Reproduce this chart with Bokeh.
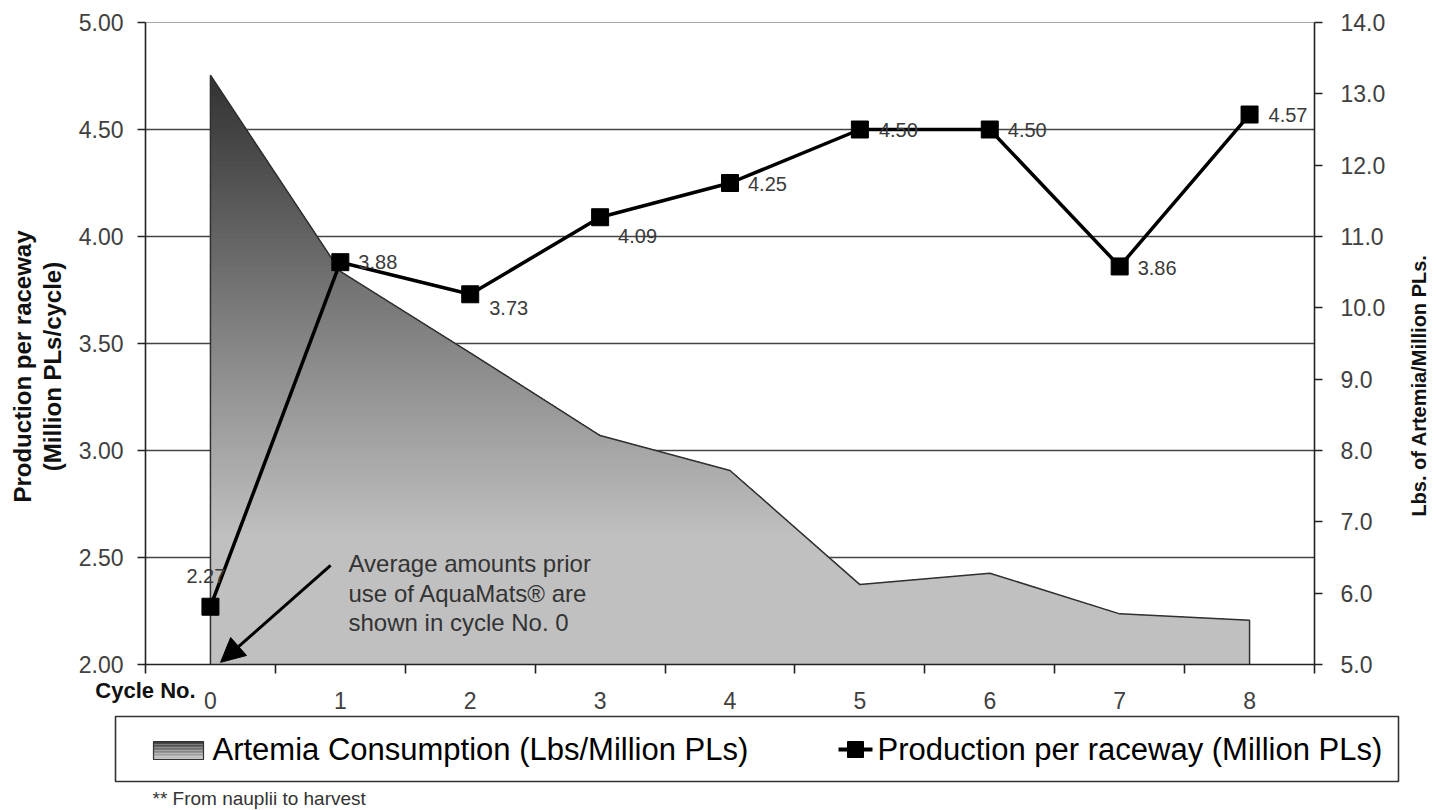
import numpy as np
from bokeh.plotting import figure
from bokeh.layouts import row
from bokeh.models import (Range1d, LinearAxis, FixedTicker, NumeralTickFormatter, Label,
                          Arrow, NormalHead)
from bokeh.core.properties import value
from bokeh.embed import file_html
from bokeh.resources import INLINE

# ---------------- data ----------------
cycles = [0, 1, 2, 3, 4, 5, 6, 7, 8]
cycle_labels = ["0", "1", "2", "3", "4", "5", "6", "7", "8"]
production = [2.27, 3.88, 3.73, 4.09, 4.25, 4.50, 4.50, 3.86, 4.57]
production_labels = ["2.27", "3.88", "3.73", "4.09", "4.25", "4.50", "4.50", "3.86", "4.57"]
artemia = [13.26, 10.51, 9.37, 8.21, 7.72, 6.12, 6.28, 5.71, 5.62]
left_ticks = [2.0, 2.5, 3.0, 3.5, 4.0, 4.5, 5.0]
right_ticks = [5, 6, 7, 8, 9, 10, 11, 12, 13, 14]
left_title = ["Production per raceway", "(Million PLs/cycle)"]
right_title = "Lbs. of Artemia/Million PLs."
legend_labels = ["Artemia Consumption (Lbs/Million PLs)", "Production per raceway (Million PLs)"]
footnote = "** From nauplii to harvest"

# label offsets (pixels), style only
label_dx = [-24, 18, 19, 18, 18, 19, 18, 18, 19]
label_dy = [-31, 0, 14, 19, 1, 0, 0, 2, 0]

FONT = "Liberation Sans"
H_TOP = 712
BT, BB = 22, 48          # top / bottom borders of the plotting frame
LW, PW, RW = 70, 1330, 36  # widths: left title strip, main plot, right title strip

p = figure(width=PW, height=H_TOP, output_backend="svg", toolbar_location=None,
           x_range=Range1d(-0.5, 8.5), y_range=Range1d(2, 5),
           min_border_left=75, min_border_right=86, min_border_top=BT, min_border_bottom=BB,
           background_fill_color="white", border_fill_color="white")
p.extra_y_ranges = {"right": Range1d(5, 14)}
p.outline_line_color = "#a8a8a8"
p.outline_line_width = 1

# grid
p.xgrid.visible = False
p.ygrid.ticker = FixedTicker(ticks=[t for t in left_ticks if 2.0 < t < 5.0])
p.ygrid.grid_line_color = "#444444"
p.ygrid.grid_line_width = 1.6

# ---------------- gradient area (right axis) ----------------
base = 5.0
top = max(artemia)
N = 90
levels = np.linspace(base, top, N + 1)[1:][::-1]
step = (top - base) / N
xa = np.array(cycles, dtype=float)
fa = np.array(artemia, dtype=float)
for b in levels:
    xs = list(xa)
    for i in range(len(xa) - 1):
        f0, f1 = fa[i], fa[i + 1]
        if (f0 - b) * (f1 - b) < 0:
            xs.append(xa[i] + (b - f0) / (f1 - f0) * (xa[i + 1] - xa[i]))
    xs = np.array(sorted(xs))
    ys = np.minimum(np.interp(xs, xa, fa), b)
    vc = b - step / 2
    t = np.clip((vc - 6.8) / (top - 6.8), 0, 1)
    g = int(round(192 - t * (192 - 50)))
    col = "#%02x%02x%02x" % (g, g, g)
    p.varea(x=xs, y1=np.full(len(xs), base), y2=ys, fill_color=col, y_range_name="right")

# outline of the area
p.line(x=[cycles[0]] + cycles + [cycles[-1]], y=[base] + artemia + [base],
       line_color="#303030", line_width=1.5, y_range_name="right")

# ---------------- production line ----------------
p.line(x=cycles, y=production, line_color="black", line_width=3.5)
p.scatter(x=cycles, y=production, marker="square", size=17, fill_color="black", line_color="black")
p.text(x=cycles, y=production, text=production_labels, x_offset=label_dx, y_offset=label_dy,
       text_font=value(FONT), text_font_size="20px", text_color="#3a3a3a",
       text_baseline="middle", text_align="left")

# ---------------- axes ----------------
def style_y(ax, standoff):
    ax.major_tick_in = 0
    ax.major_tick_out = 8
    ax.minor_tick_line_color = None
    ax.axis_line_color = "#222222"
    ax.axis_line_width = 1.6
    ax.major_tick_line_width = 1.6
    ax.major_tick_line_color = "#222222"
    ax.major_label_text_font = FONT
    ax.major_label_text_font_size = "23px"
    ax.major_label_text_color = "#404040"
    ax.major_label_standoff = standoff

yl = p.yaxis[0]
yl.ticker = FixedTicker(ticks=left_ticks)
yl.formatter = NumeralTickFormatter(format="0.00")
style_y(yl, 14)

yr = LinearAxis(y_range_name="right", ticker=FixedTicker(ticks=right_ticks),
                formatter=NumeralTickFormatter(format="0.0"))
style_y(yr, 18)
p.add_layout(yr, "right")

xb = p.xaxis[0]
xb.ticker = FixedTicker(ticks=cycles, minor_ticks=[c - 0.5 for c in cycles] + [cycles[-1] + 0.5])
xb.major_label_overrides = {c: s for c, s in zip(cycles, cycle_labels)}
xb.major_tick_line_color = None
xb.major_tick_in = 0
xb.major_tick_out = 0
xb.minor_tick_in = 0
xb.minor_tick_out = 9
xb.minor_tick_line_color = "#222222"
xb.minor_tick_line_width = 1.6
xb.axis_line_color = "#222222"
xb.axis_line_width = 1.6
xb.major_label_text_font = FONT
xb.major_label_text_font_size = "23px"
xb.major_label_text_color = "#404040"
xb.major_label_standoff = 18

# "Cycle No." as a second bottom axis with a single labelled tick at the range start
xc = LinearAxis(ticker=FixedTicker(ticks=[-0.5]), major_label_overrides={-0.5: "Cycle No."})
xc.axis_line_color = None
xc.major_tick_line_color = None
xc.minor_tick_line_color = None
xc.major_tick_in = 0
xc.major_tick_out = 0
xc.major_label_text_font = FONT
xc.major_label_text_font_style = "bold"
xc.major_label_text_font_size = "22px"
xc.major_label_text_color = "#111111"
xc.major_label_standoff = -34
p.add_layout(xc, "below")

# annotation
ann_lines = ["Average amounts prior", "use of AquaMats\u00ae are", "shown in cycle No. 0"]
ann_y = [2.472, 2.334, 2.197]
for txt, yy in zip(ann_lines, ann_y):
    p.add_layout(Label(x=1.063, y=yy, text=txt, text_align="left", text_baseline="middle",
                       text_font=FONT, text_font_size="24px", text_color="#333333"))
p.add_layout(Arrow(end=NormalHead(size=24, fill_color="black", line_color="black"),
                   x_start=0.925, y_start=2.463, x_end=0.078, y_end=2.01,
                   line_color="black", line_width=3))

# ---------------- axis title strips ----------------
def strip(width, x0):
    f = figure(width=width, height=H_TOP, output_backend="svg", toolbar_location=None,
               x_range=Range1d(x0, x0 + width), y_range=Range1d(H_TOP - BB, BT),
               x_axis_type=None, y_axis_type=None,
               min_border_left=0, min_border_right=0, min_border_top=BT, min_border_bottom=BB,
               background_fill_color="white", border_fill_color="white")
    f.grid.visible = False
    f.outline_line_color = None
    return f

lft = strip(LW, 0)
lft.text(x=[22, 52], y=[366, 366], text=left_title, angle=np.pi / 2,
         text_font=value(FONT), text_font_style="bold", text_font_size="24px",
         text_color="#111111", text_align="center", text_baseline="middle")

rgt = strip(RW, LW + PW)
rgt.text(x=[LW + PW + 18], y=[385], text=[right_title], angle=np.pi / 2,
         text_font=value(FONT), text_font_style="bold", text_font_size="20px",
         text_color="#111111", text_align="center", text_baseline="middle")

top_row = row(lft, p, rgt, spacing=0)

# ---------------- legend + footnote figure ----------------
W = LW + PW + RW
q = figure(width=W, height=98, output_backend="svg", toolbar_location=None,
           x_range=Range1d(0, W), y_range=Range1d(810, 712),
           x_axis_type=None, y_axis_type=None,
           min_border_left=0, min_border_right=0, min_border_top=0, min_border_bottom=0,
           background_fill_color="white", border_fill_color="white")
q.grid.visible = False
q.outline_line_color = None

q.quad(left=[115], right=[1398], top=[716], bottom=[781], fill_color="white",
       line_color="#333333", line_width=1.6)
ns = 12
edges = np.linspace(741, 759, ns + 1)
shades = np.linspace(60, 200, ns)
q.quad(left=[153] * ns, right=[203] * ns, top=list(edges[:-1]), bottom=list(edges[1:]),
       fill_color=["#%02x%02x%02x" % (int(s), int(s), int(s)) for s in shades], line_color=None)
q.quad(left=[153], right=[203], top=[741], bottom=[759], fill_color=None,
       line_color="#333333", line_width=1.2)
q.line(x=[838, 872], y=[749, 749], line_color="black", line_width=4)
q.scatter(x=[855], y=[749], marker="square", size=16, fill_color="black", line_color="black")
q.text(x=[212, 877], y=[749, 749], text=legend_labels, text_font=value(FONT),
       text_font_size="31px", text_color="black", text_baseline="middle", text_align="left")
q.text(x=[152], y=[798], text=[footnote], text_font=value(FONT), text_font_size="19px",
       text_color="#333333", text_baseline="middle", text_align="left")

open("out.html", "w").write(file_html([top_row, q], INLINE))
